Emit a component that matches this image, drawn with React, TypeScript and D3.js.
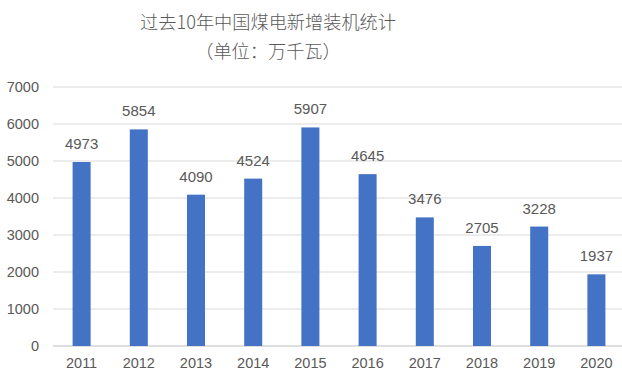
import React from "react";
import * as d3 from "d3";

const years = ["2011", "2012", "2013", "2014", "2015", "2016", "2017", "2018", "2019", "2020"];
const capacity = [4973, 5854, 4090, 4524, 5907, 4645, 3476, 2705, 3228, 1937];
const yTicks = [0, 1000, 2000, 3000, 4000, 5000, 6000, 7000];
const titleLines = ["过去10年中国煤电新增装机统计", "（单位：万千瓦）"];

const W = 622;
const H = 378;
const left = 53;
const top = 87;
const bottom = 346;

export default function App() {
  const x = d3.scaleBand<string>().domain(years).range([left, left + 57.2 * years.length]).paddingInner(0.685).paddingOuter(0.3425);
  const y = d3.scaleLinear().domain([0, 7000]).range([bottom, top]);
  const font = "'Noto Sans CJK SC', 'Noto Sans', sans-serif";
  const numFont = "'Liberation Sans', Arial, sans-serif";
  const txt = "#595959";
  return (
    <svg width={W} height={H} style={{ position: "absolute", left: 0, top: 0, background: "#fff" }}>
      <rect width={W} height={H} fill="#fff" />
      <text x={268} y={29} textAnchor="middle" fontFamily={font} fontWeight={300} fontSize={18.2} fill={txt}>{titleLines[0]}</text>
      <text x={268} y={58} textAnchor="middle" fontFamily={font} fontWeight={300} fontSize={18.2} fill={txt}>{titleLines[1]}</text>
      {yTicks.map((t) => (
        <g key={t}>
          <line x1={left} x2={W} y1={y(t)} y2={y(t)} stroke={t === 0 ? "#bfbfbf" : "#d9d9d9"} strokeWidth={1} />
          <text x={39} y={y(t)} dy="0.36em" textAnchor="end" fontFamily={numFont} fontSize={14.5} fill={txt}>{t}</text>
        </g>
      ))}
      {years.map((yr, i) => (
        <g key={yr}>
          <rect x={x(yr)} y={y(capacity[i])} width={x.bandwidth()} height={y(0) - y(capacity[i])} fill="#4472C4" />
          <text x={(x(yr) as number) + x.bandwidth() / 2} y={y(capacity[i]) - 13} textAnchor="middle" fontFamily={numFont} fontSize={15} fill={txt}>{capacity[i]}</text>
          <text x={(x(yr) as number) + x.bandwidth() / 2} y={368} textAnchor="middle" fontFamily={numFont} fontSize={14.5} fill={txt}>{yr}</text>
        </g>
      ))}
    </svg>
  );
}
